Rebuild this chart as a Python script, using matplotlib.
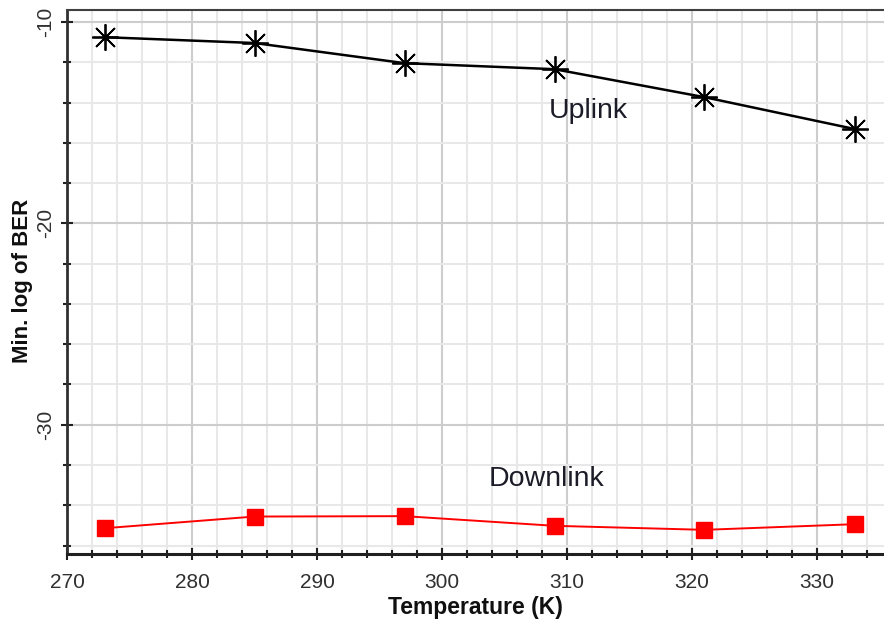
import numpy as np
import matplotlib.pyplot as plt
from matplotlib.ticker import MultipleLocator

plt.rcParams["font.family"] = ["Liberation Sans", "DejaVu Sans"]
plt.rcParams["axes.unicode_minus"] = False

# Temperature sweep and minimum log10(BER) for each link
temperature = [273, 285, 297, 309, 321, 333]
uplink_ber = [-10.75, -11.04, -12.04, -12.34, -13.73, -15.31]
downlink_ber = [-35.14, -34.56, -34.54, -35.02, -35.22, -34.94]

W, H = 884, 622
fig = plt.figure(figsize=(W / 100, H / 100), dpi=100)
ax = fig.add_axes([67 / W, (H - 554) / H, (W - 67) / W, (554 - 10) / H])

ax.set_xlim(270, 335.36)
ax.set_ylim(-36.42, -9.40)

# grid: major every 10, minor every 2
ax.xaxis.set_major_locator(MultipleLocator(10))
ax.xaxis.set_minor_locator(MultipleLocator(2))
ax.yaxis.set_major_locator(MultipleLocator(10))
ax.yaxis.set_minor_locator(MultipleLocator(2))
ax.grid(which="minor", color="#e8e8e8", linewidth=1.5, zorder=0)
ax.grid(which="major", color="#cdcdcd", linewidth=1.5, zorder=0)
ax.set_axisbelow(True)

ax.plot(temperature, uplink_ber, color="black", linewidth=1.8,
        marker=(8, 2, 0), markersize=19, markeredgewidth=1.3,
        markeredgecolor="black", zorder=3)
ax.plot(temperature, downlink_ber, color="#ff0000", linewidth=1.4,
        marker="s", markersize=11, markerfacecolor="#ff0000",
        markeredgecolor="#ff0000", zorder=3)

ax.text(311.7, -14.44, "Uplink", fontsize=20.5,
        color="#1c1c28", ha="center", va="center")
ax.text(308.4, -32.7, "Downlink", fontsize=20.5,
        color="#1c1c28", ha="center", va="center")

# spines
ax.spines["right"].set_visible(False)
ax.spines["left"].set_color("#303030")
ax.spines["left"].set_linewidth(2)
ax.spines["bottom"].set_color("#202020")
ax.spines["bottom"].set_linewidth(2.2)
ax.spines["bottom"].set_linestyle((0, (1, 1)))
ax.spines["top"].set_color("#404040")
ax.spines["top"].set_linewidth(1.5)
ax.spines["top"].set_linestyle((0, (1, 1)))

ax.tick_params(axis="both", which="major", direction="inout", length=9,
               width=1.5, color="#202020", labelsize=15, labelcolor="#303030")
ax.tick_params(axis="both", which="minor", direction="inout", length=6,
               width=1.5, color="#202020")
ax.tick_params(axis="x", which="major", pad=9)
ax.tick_params(axis="y", which="major", pad=4)
for lbl in ax.get_yticklabels():
    lbl.set_rotation(90)
    lbl.set_va("center")

fig.text(475 / W, 1 - 614 / H, "Temperature (K)", fontsize=16.5,
         fontweight="bold", color="#101010", ha="center", va="baseline")
fig.text(23 / W, 1 - 281 / H, "Min. log of BER", fontsize=16,
         fontweight="bold", color="#101010", ha="center", va="center",
         rotation=90)

fig.savefig("out.png", dpi=100)
